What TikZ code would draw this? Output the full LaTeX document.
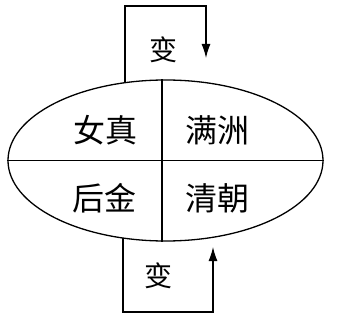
\documentclass[tikz,border=0pt]{standalone}
\usepackage{fontspec}
\newfontfamily\cjk{Noto Sans CJK SC}
\usetikzlibrary{shapes.geometric,arrows.meta}
\begin{document}
\begin{tikzpicture}[x=1pt,y=-1pt,line width=1.3pt,
  lbl/.style={font=\cjk\fontsize{32}{32}\selectfont,inner sep=0pt},
  chg/.style={font=\cjk\fontsize{28}{28}\selectfont,inner sep=0pt},
  arr/.style={-{Latex[length=14pt,width=9pt]}}]
\useasboundingbox (0,0) rectangle (337,315);
\node[ellipse,draw,minimum width=315pt,minimum height=161pt,inner sep=0pt] (e) at (165.5,160.5) {};
\draw (e.west) -- (e.east);
\draw ([xshift=-3.5pt]e.north) -- ([xshift=-3.5pt]e.south);
\node[lbl] (nz) at (105,130) {女真};
\node[lbl] (mz) at (217,130) {满洲};
\node[lbl] (hj) at (104,198) {后金};
\node[lbl] (qc) at (217,198) {清朝};
\coordinate (t1) at (125,82.7);
\coordinate (t2) at (206,6);
\coordinate (t3) at (206,58);
\draw[arr] (t1) |- (t2) -- (t3);
\node[chg] (b1l) at (163,50) {变};
\coordinate (b1) at (123,238);
\coordinate (b2) at (213,312);
\coordinate (b3) at (213,247);
\draw[arr] (b1) |- (b2) -- (b3);
\node[chg] (b2l) at (158,276) {变};
\end{tikzpicture}
\end{document}
